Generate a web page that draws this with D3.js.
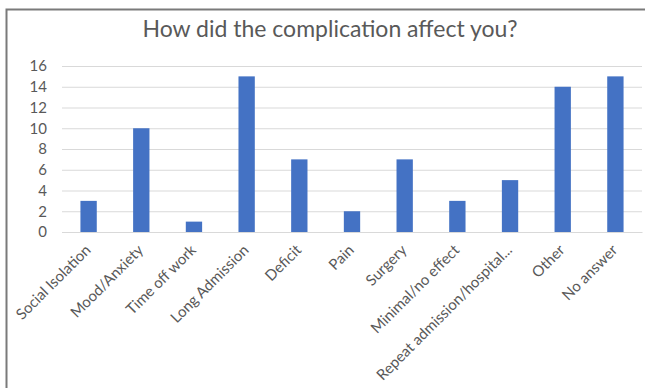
<!DOCTYPE html>
<html>
<head>
<meta charset="utf-8">
<script src="https://cdn.jsdelivr.net/npm/d3@7"></script>
<style>
  body { margin: 0; background: #fff; }
  svg { display: block; font-family: Lato, "Open Sans", sans-serif; }
</style>
</head>
<body>
<svg id="chart" width="645" height="388"></svg>
<script>
var categories = ["Social Isolation", "Mood/Anxiety", "Time off work", "Long Admission", "Deficit",
  "Pain", "Surgery", "Minimal/no effect", "Repeat admission/hospital...", "Other", "No answer"];
var counts = [3, 10, 1, 15, 7, 2, 7, 3, 5, 14, 15];
var yTicks = [0, 2, 4, 6, 8, 10, 12, 14, 16];

var svg = d3.select("#chart"),
  margin = {top: 66, right: 3, bottom: 156, left: 62},
  width = +svg.attr("width") - margin.left - margin.right,
  height = +svg.attr("height") - margin.top - margin.bottom;

// frame (top and left edges visible in the source)
svg.append("path")
  .attr("d", "M6.5,388 V9.5 H645")
  .attr("fill", "none")
  .attr("stroke", "#7a7a7a")
  .attr("stroke-width", 2);

svg.append("text")
  .attr("x", 330)
  .attr("y", 37)
  .attr("text-anchor", "middle")
  .attr("fill", "#595959")
  .style("font-size", "23px")
  .text("How did the complication affect you?");

var g = svg.append("g").attr("transform", "translate(" + margin.left + "," + margin.top + ")");

var x = d3.scaleBand().domain(categories).range([0, width]).paddingInner(0.69).paddingOuter(0.35);
var y = d3.scaleLinear().domain([0, 16]).range([height, 0]);

// gridlines
g.append("g")
  .call(d3.axisLeft(y).tickValues(yTicks).tickSize(-width).tickFormat(""))
  .call(function(s) { s.select(".domain").remove(); })
  .selectAll("line")
  .attr("stroke", "#d9d9d9")
  .attr("stroke-width", 1);

// y labels
var ya = g.append("g")
  .call(d3.axisLeft(y).tickValues(yTicks).tickSize(0).tickPadding(15));
ya.select(".domain").remove();
ya.selectAll("text").attr("fill", "#595959").style("font-size", "15px").attr("font-family", "Lato, sans-serif");

g.selectAll(".bar")
  .data(counts)
  .enter().append("rect")
  .attr("class", "bar")
  .attr("x", function(d, i) { return x(categories[i]); })
  .attr("y", function(d) { return y(d); })
  .attr("width", x.bandwidth())
  .attr("height", function(d) { return height - y(d); })
  .attr("fill", "#4472c4");

// x axis
var xa = g.append("g")
  .attr("transform", "translate(0," + height + ")")
  .call(d3.axisBottom(x).tickSize(0).tickPadding(0));
xa.select(".domain").attr("stroke", "#d9d9d9");
xa.selectAll("text")
  .attr("fill", "#595959")
  .attr("font-family", "Lato, sans-serif")
  .style("font-size", "15px")
  .attr("text-anchor", "end")
  .attr("dy", "0")
  .attr("transform", "translate(3,19) rotate(-45)");
</script>
</body>
</html>
